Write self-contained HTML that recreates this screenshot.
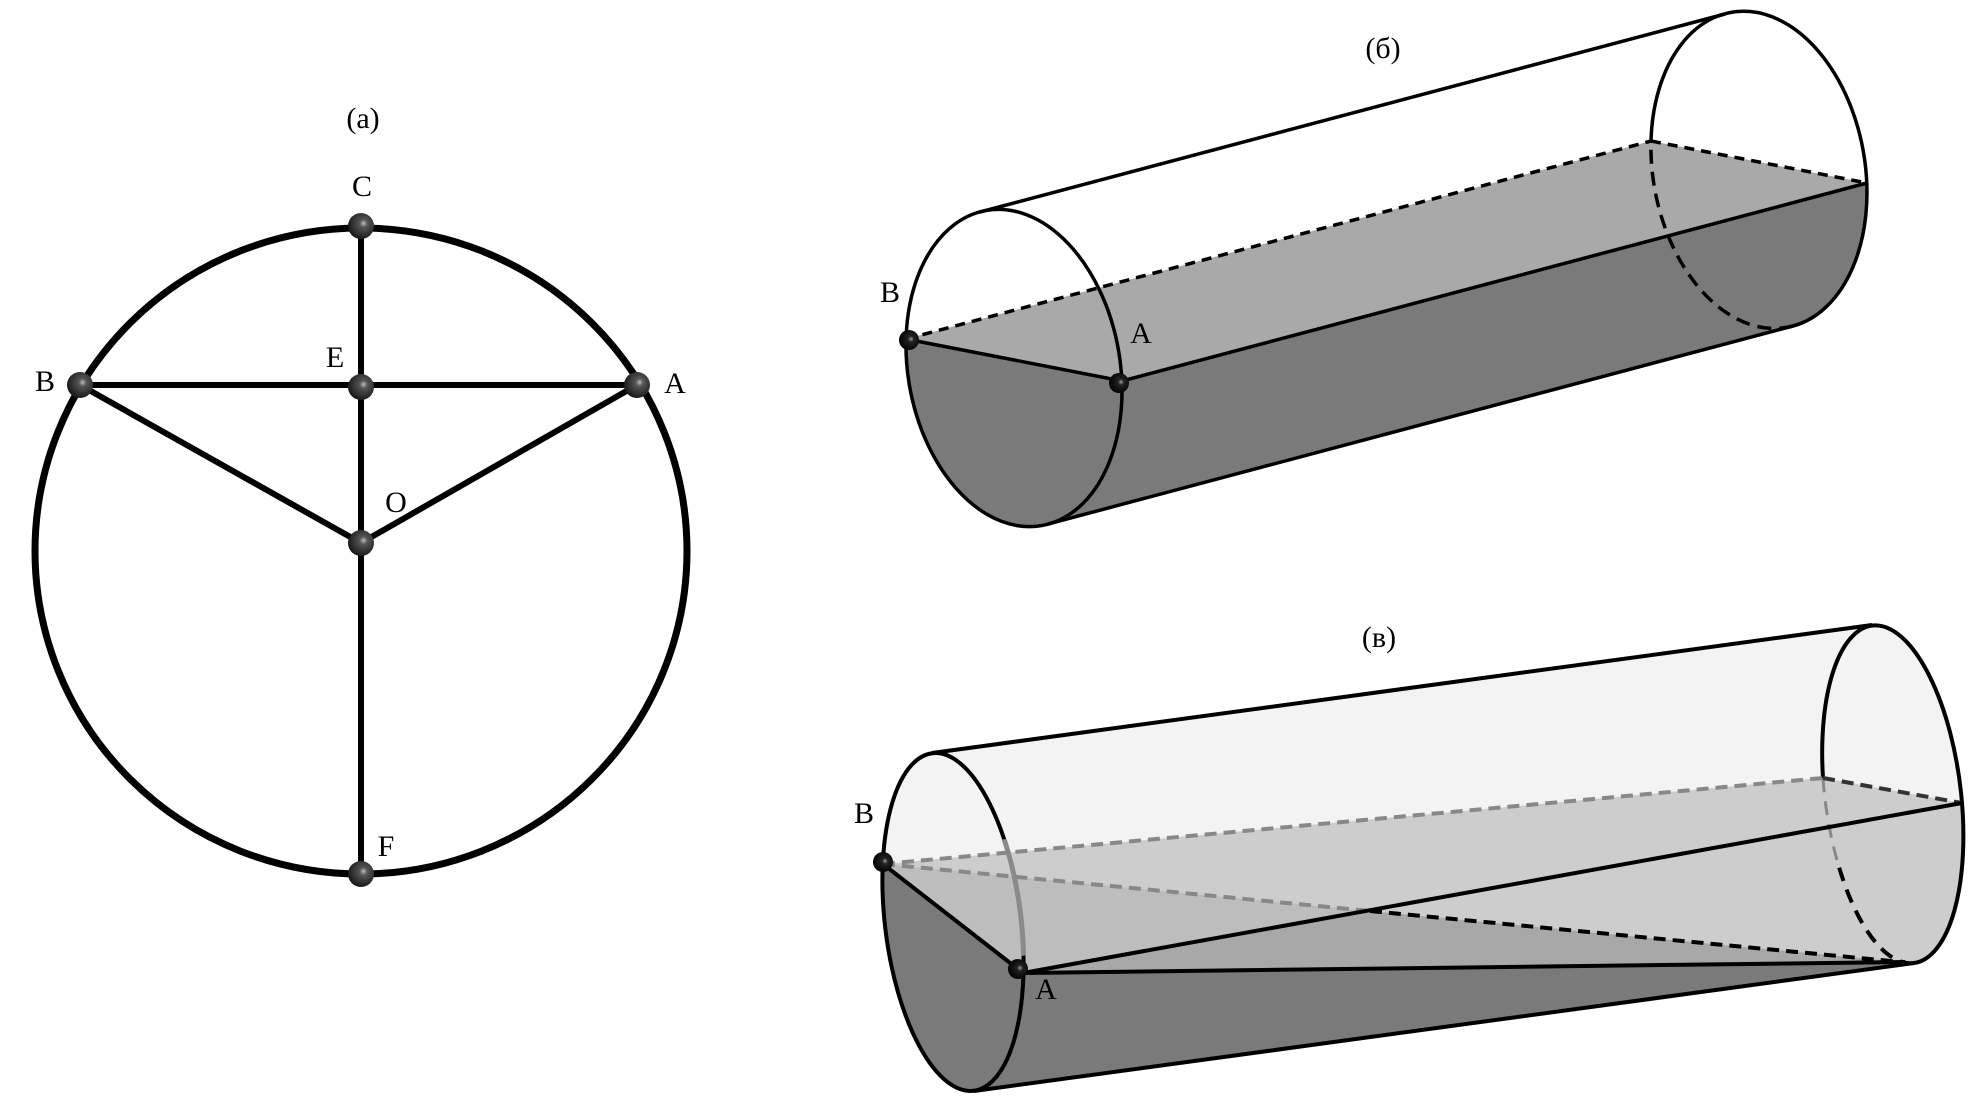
<!DOCTYPE html>
<html><head><meta charset="utf-8"><style>
html,body{margin:0;padding:0;background:#fff;}
svg{display:block;}
text{font-family:"Liberation Serif",serif;fill:#000;}
</style></head><body>
<svg width="1971" height="1104" viewBox="0 0 1971 1104" xmlns="http://www.w3.org/2000/svg">
<defs>
<radialGradient id="ball" cx="0.6" cy="0.4" r="0.6">
<stop offset="0" stop-color="#bbb"/><stop offset="0.25" stop-color="#555"/><stop offset="1" stop-color="#1a1a1a"/>
</radialGradient>
<radialGradient id="ball2" cx="0.6" cy="0.45" r="0.6">
<stop offset="0" stop-color="#999"/><stop offset="0.25" stop-color="#222"/><stop offset="1" stop-color="#000"/>
</radialGradient>
<clipPath id="lev"><ellipse cx="953" cy="922" rx="68" ry="170" transform="rotate(-7 953 922)"/></clipPath>
<clipPath id="grayseg"><rect x="985" y="846" width="60" height="118"/></clipPath>
</defs>

<!-- Panel (a) -->
<ellipse cx="361" cy="551" rx="326" ry="323" fill="none" stroke="#000" stroke-width="7"/>
<g stroke="#000" stroke-width="6" fill="none">
<line x1="361" y1="226" x2="361" y2="874"/>
<line x1="80" y1="385" x2="637" y2="385"/>
<line x1="80" y1="385" x2="361" y2="543"/>
<line x1="637" y1="385" x2="361" y2="543"/>
</g>
<g fill="url(#ball)">
<circle cx="361" cy="226" r="13"/><circle cx="361" cy="387" r="13"/><circle cx="80" cy="385" r="13"/>
<circle cx="637" cy="385" r="13"/><circle cx="361" cy="543" r="13"/><circle cx="361" cy="874" r="13"/>
</g>
<g font-size="30">
<text x="363" y="128" text-anchor="middle">(a)</text>
<text x="362" y="196" text-anchor="middle">C</text>
<text x="335" y="367" text-anchor="middle">E</text>
<text x="45" y="391" text-anchor="middle">B</text>
<text x="675" y="393" text-anchor="middle">A</text>
<text x="396" y="512" text-anchor="middle">O</text>
<text x="386" y="856" text-anchor="middle">F</text>
</g>

<!-- Panel (б) -->
<path d="M906,339 L1122,381 L1867,183 L1651,141 Z" fill="#a9a9a9"/>
<path d="M906,339 L1122,381 L1867,183 A106 160 -10 0 1 1793,326 L1048,524 A106 160 -10 0 1 906,339 Z" fill="#7a7a7a"/>
<g stroke="#000" stroke-width="3.5" fill="none">
<ellipse cx="1014" cy="368" rx="106" ry="160" transform="rotate(-10 1014 368)"/>
<line x1="980" y1="212" x2="1725" y2="14"/>
<line x1="1048" y1="524" x2="1793" y2="326"/>
<path d="M1651,141 A106 160 -10 1 1 1793,326"/>
<path d="M1793,326 A106 160 -10 0 1 1651,141" stroke-dasharray="14 8"/>
<line x1="906" y1="339" x2="1651" y2="141" stroke-dasharray="10 7"/>
<line x1="1651" y1="141" x2="1867" y2="183" stroke-dasharray="10 7"/>
<line x1="906" y1="339" x2="1122" y2="381"/>
<line x1="1122" y1="381" x2="1867" y2="183"/>
</g>
<circle cx="909" cy="340" r="10" fill="url(#ball2)"/>
<circle cx="1119" cy="383" r="10" fill="url(#ball2)"/>
<g font-size="30">
<text x="1383" y="58" text-anchor="middle">(б)</text>
<text x="890" y="302" text-anchor="middle">B</text>
<text x="1141" y="343" text-anchor="middle">A</text>
</g>

<!-- Panel (в) -->
<g fill="#f3f3f3">
<ellipse cx="953" cy="922" rx="68" ry="170" transform="rotate(-7 953 922)"/>
<ellipse cx="1893" cy="794" rx="68" ry="170" transform="rotate(-7 1893 794)"/>
<path d="M932,753 L1872,625 L1914,963 L974,1091 Z"/>
</g>
<path d="M883,864 L1823,778 L1962,803 A68 170 -7 0 1 1901,962 L1023,973 Z" fill="#cdcdcd"/>
<path d="M883,864 L1370,911 L1023,973 Z" fill="#bdbdbd"/>
<path d="M1370,911 L1901,962 L1023,973 Z" fill="#a8a8a8"/>
<path d="M1023,973 L1901,962 L1914,963 L974,1091 Z" fill="#7a7a7a"/>
<path d="M883,864 L1023,973 L1030,1110 L860,1110 L860,864 Z" fill="#7a7a7a" clip-path="url(#lev)"/>
<g stroke="#000" stroke-width="4" fill="none">
<line x1="932" y1="753" x2="1872" y2="625"/>
<line x1="974" y1="1091" x2="1914" y2="963"/>
<ellipse cx="953" cy="922" rx="68" ry="170" transform="rotate(-7 953 922)"/>
<ellipse cx="953" cy="922" rx="68" ry="170" transform="rotate(-7 953 922)" stroke="#8a8a8a" stroke-width="5" clip-path="url(#grayseg)"/>
<path d="M1823,778 A68 170 -7 1 1 1914,963"/>
<path d="M1914,963 A68 170 -7 0 1 1837,860" stroke-dasharray="14 9"/>
<path d="M1837,860 A68 170 -7 0 1 1823,778" stroke="#888" stroke-width="3" stroke-dasharray="14 9"/>
<line x1="883" y1="864" x2="1823" y2="778" stroke="#888" stroke-dasharray="12 7"/>
<line x1="1823" y1="778" x2="1962" y2="803" stroke="#333" stroke-dasharray="12 7"/>
<line x1="883" y1="864" x2="1370" y2="911" stroke="#888" stroke-dasharray="12 7"/>
<line x1="1370" y1="911" x2="1901" y2="962" stroke-dasharray="12 7"/>
<line x1="883" y1="864" x2="1023" y2="973"/>
<line x1="1023" y1="973" x2="1962" y2="803"/>
<line x1="1023" y1="973" x2="1905" y2="962"/>
</g>
<circle cx="883" cy="862" r="10" fill="url(#ball2)"/>
<circle cx="1018" cy="969" r="10" fill="url(#ball2)"/>
<g font-size="30">
<text x="1379" y="647" text-anchor="middle">(в)</text>
<text x="864" y="823" text-anchor="middle">B</text>
<text x="1046" y="999" text-anchor="middle">A</text>
</g>
</svg>
</body></html>
